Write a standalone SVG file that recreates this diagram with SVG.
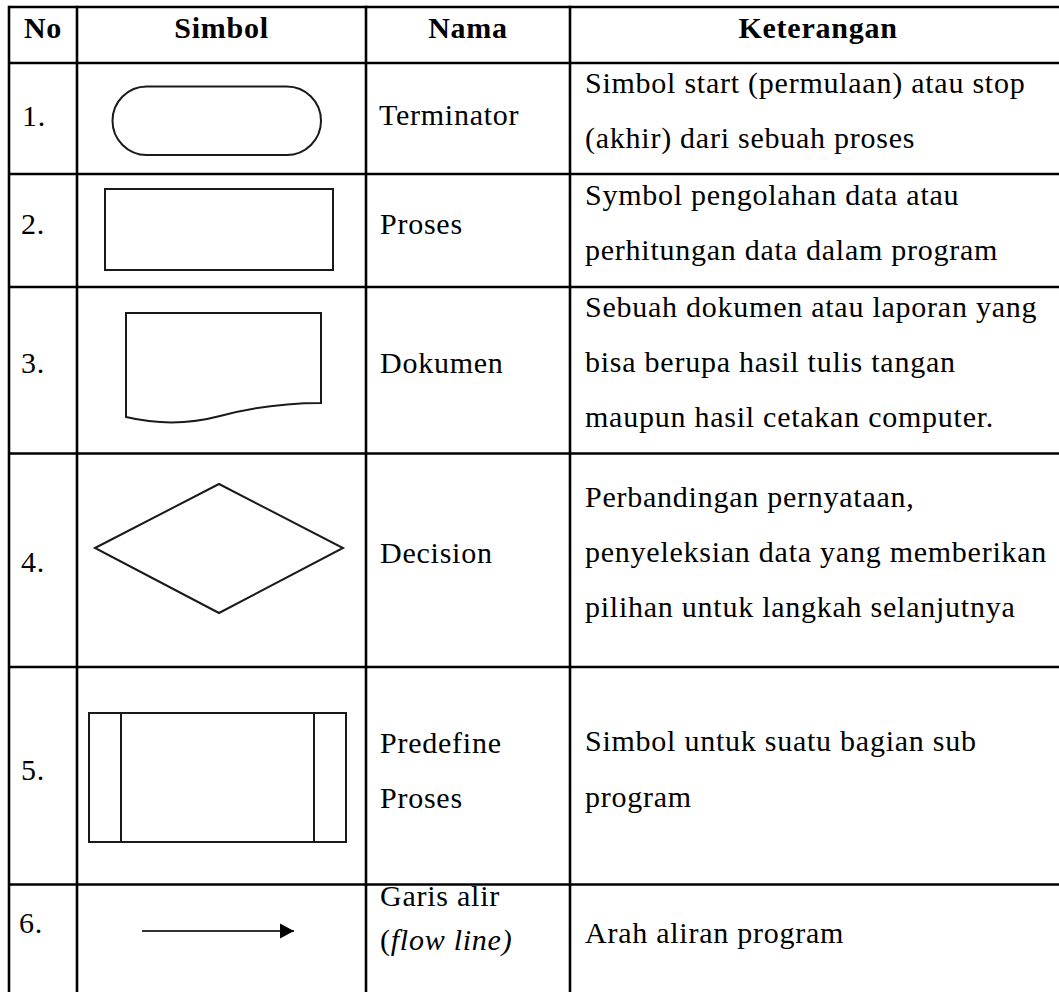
<svg xmlns="http://www.w3.org/2000/svg" width="1059" height="992" viewBox="0 0 1059 992">
  <style>
    .t { font-family: "Liberation Serif", "Times New Roman", serif; font-size: 30px; letter-spacing: 0.75px; fill: #000; }
    .b { font-weight: bold; }
    .i { font-style: italic; }
    .grid { stroke: #000; stroke-width: 2.6; fill: none; }
    .shape { stroke: #1a1a1a; stroke-width: 2; fill: #fff; stroke-linejoin: miter; }
    .flow { stroke: #333; stroke-width: 1.8; fill: none; }
  </style>
  <defs>
    <marker id="arrowhead" markerUnits="userSpaceOnUse" markerWidth="16" markerHeight="16" refX="15" refY="8" orient="auto">
      <path d="M1,0.5 L15,8 L1,15.5 Z" fill="#000"/>
    </marker>
  </defs>
  <rect x="0" y="0" width="1059" height="992" fill="#fff"/>

  <g id="table-grid" class="grid">
    <line x1="9" y1="7" x2="1059" y2="7"/>
    <line x1="9" y1="63" x2="1059" y2="63"/>
    <line x1="9" y1="174" x2="1059" y2="174"/>
    <line x1="9" y1="287" x2="1059" y2="287"/>
    <line x1="9" y1="453.5" x2="1059" y2="453.5"/>
    <line x1="9" y1="667" x2="1059" y2="667"/>
    <line x1="9" y1="884.5" x2="1059" y2="884.5"/>
    <line x1="9" y1="5.7" x2="9" y2="992"/>
    <line x1="77" y1="5.7" x2="77" y2="992"/>
    <line x1="366" y1="5.7" x2="366" y2="992"/>
    <line x1="570" y1="5.7" x2="570" y2="992"/>
  </g>

  <g id="header">
    <text class="t b" x="43" y="38" text-anchor="middle">No</text>
    <text class="t b" x="221.5" y="38" text-anchor="middle">Simbol</text>
    <text class="t b" x="468" y="38" text-anchor="middle">Nama</text>
    <text class="t b" x="818" y="38" text-anchor="middle">Keterangan</text>
  </g>

  <g id="row1-terminator">
    <text class="t" x="22" y="126">1.</text>
    <rect class="shape" x="112.5" y="86.5" width="208.5" height="68.5" rx="34.25" ry="34.25"/>
    <text class="t" x="379" y="125">Terminator</text>
    <text class="t" x="585" y="93">Simbol start (permulaan) atau stop</text>
    <text class="t" x="585" y="148">(akhir) dari sebuah proses</text>
  </g>

  <g id="row2-proses">
    <text class="t" x="21" y="234">2.</text>
    <rect class="shape" x="105" y="189" width="228" height="81"/>
    <text class="t" x="380" y="234">Proses</text>
    <text class="t" x="585" y="205">Symbol pengolahan data atau</text>
    <text class="t" x="585" y="260">perhitungan data dalam program</text>
  </g>

  <g id="row3-dokumen">
    <text class="t" x="21" y="373">3.</text>
    <path class="shape" d="M126,313 H321 V403 C280,403 250,408 220,416 C190,424 160,425 126,417 Z"/>
    <text class="t" x="380" y="373">Dokumen</text>
    <text class="t" x="585" y="317">Sebuah dokumen atau laporan yang</text>
    <text class="t" x="585" y="372">bisa berupa hasil tulis tangan</text>
    <text class="t" x="585" y="427">maupun hasil cetakan computer.</text>
  </g>

  <g id="row4-decision">
    <text class="t" x="21" y="572">4.</text>
    <polygon class="shape" points="95,548 219,484 343,548 219,613"/>
    <text class="t" x="380" y="563">Decision</text>
    <text class="t" x="585" y="507">Perbandingan pernyataan,</text>
    <text class="t" x="585" y="562">penyeleksian data yang memberikan</text>
    <text class="t" x="585" y="617">pilihan untuk langkah selanjutnya</text>
  </g>

  <g id="row5-predefine">
    <text class="t" x="21" y="780">5.</text>
    <rect class="shape" x="89" y="713" width="257" height="129"/>
    <line class="shape" x1="121" y1="713" x2="121" y2="842"/>
    <line class="shape" x1="314" y1="713" x2="314" y2="842"/>
    <text class="t" x="380" y="753">Predefine</text>
    <text class="t" x="380" y="808">Proses</text>
    <text class="t" x="585" y="751">Simbol untuk suatu bagian sub</text>
    <text class="t" x="585" y="807">program</text>
  </g>

  <g id="row6-flowline">
    <text class="t" x="19" y="933">6.</text>
    <text class="t" x="380" y="906">Garis alir</text>
    <text class="t" x="380" y="950">(<tspan class="i">flow line)</tspan></text>
    <text class="t" x="585" y="943">Arah aliran program</text>
  </g>

  <g id="connectors">
    <line class="flow" x1="142" y1="931" x2="294" y2="931" marker-end="url(#arrowhead)"/>
  </g>
</svg>
